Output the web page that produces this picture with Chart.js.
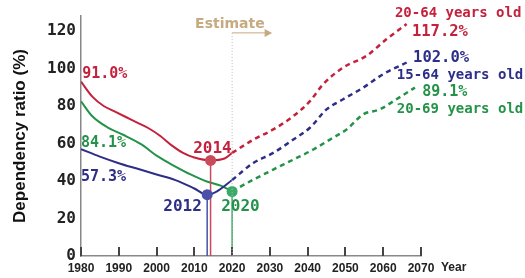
<!DOCTYPE html>
<html>
<head>
<meta charset="utf-8">
<script src="https://cdn.jsdelivr.net/npm/chart.js@4.4.1/dist/chart.umd.min.js"></script>
<style>
  html, body { margin: 0; padding: 0; background: #fff; }
  #wrap { width: 525px; height: 278px; position: relative; }
</style>
</head>
<body>
<div id="wrap"><canvas id="ratioChart"></canvas></div>
<script>
// Dependency ratio (%)
const redYears = [1980, 1983, 1986, 1989, 1992, 1995, 1998, 2001, 2004, 2007, 2010, 2014.3, 2018, 2020];
const redValues = [93, 85, 80, 77, 74, 71, 68, 64, 59, 55, 52.5, 51, 52, 55];
const redEstYears = [2020, 2025.6, 2030.9, 2036.2, 2040.6, 2044.1, 2049.4, 2055.6, 2060.9, 2066.2];
const redEstValues = [55, 62, 67.5, 74.6, 82.6, 91.6, 100.5, 106.8, 115.7, 123.7];

const blueYears = [1980, 1985, 1990, 1995, 2000, 2005, 2010, 2013.4, 2016, 2020];
const blueValues = [57, 53, 49.5, 46.5, 43.5, 40.5, 36, 32.7, 34.5, 40.5];
const blueEstYears = [2020, 2025.6, 2030.9, 2036.2, 2040.6, 2045, 2049.4, 2054.7, 2060, 2066.2];
const blueEstValues = [40.5, 49.6, 55, 62.1, 68.4, 78.2, 83.6, 89.8, 97, 103.2];

const greenYears = [1980, 1983, 1987, 1991, 1996, 2000, 2005, 2009, 2013.5, 2017, 2020];
const greenValues = [82.5, 74.5, 68.6, 64.8, 59.5, 53.5, 47.7, 43.5, 39.6, 37.5, 34.4];
const greenEstYears = [2020, 2025.6, 2030.9, 2036.2, 2041.5, 2045.9, 2050.3, 2054.7, 2059.1, 2063.5, 2068.4];
const greenEstValues = [34.6, 40.7, 46.1, 51.4, 56.8, 62.1, 67.5, 75.5, 78.2, 83.6, 89.8];

// turning points (year, value)
const redMin = [2014.3, 51];
const blueMin = [2013.4, 32.7];
const greenMin = [2020, 34.4];

const yTicks = [0, 20, 40, 60, 80, 100, 120];
const xTicks = [1980, 1990, 2000, 2010, 2020, 2030, 2040, 2050, 2060, 2070];

const RED = "#c4213c";
const BLUE = "#2d2e87";
const GREEN = "#25924a";
const TAN = "#c6aa80";

function pts(xs, ys) {
    return xs.map((x, i) => ({ x: x, y: ys[i] }));
}

function lineSet(xs, ys, color, dashed) {
    return {
        data: pts(xs, ys),
        borderColor: color,
        borderWidth: dashed ? 2.5 : 2,
        borderDash: dashed ? [5, 4] : [],
        pointRadius: 0,
        cubicInterpolationMode: "monotone",
        fill: false,
    };
}

function dropSet(p, color) {
    return {
        data: [{ x: p[0], y: p[1] }, { x: p[0], y: 0 }],
        borderColor: color,
        borderWidth: 1.5,
        pointRadius: [5.5, 0],
        pointBackgroundColor: color,
        pointBorderWidth: 0,
        fill: false,
    };
}

// labels, arrow, estimate line, tick marks
const extras = {
    id: "extras",
    afterDraw(chart) {
        const ctx = chart.ctx;
        const xs = chart.scales.x;
        const ys = chart.scales.y;
        const px = (v) => xs.getPixelForValue(v);
        const py = (v) => ys.getPixelForValue(v);
        const base = ys.getPixelForValue(0);
        ctx.save();

        // short upward tick marks on the x axis
        ctx.fillStyle = "#444";
        xTicks.forEach((t) => {
            ctx.fillRect(Math.round(px(t)) - 1, base - 9, 2, 9);
        });

        // estimate divider and arrow
        ctx.strokeStyle = "#bbb";
        ctx.lineWidth = 1;
        ctx.setLineDash([1, 2]);
        ctx.beginPath();
        ctx.moveTo(px(2020), py(119));
        ctx.lineTo(px(2020), base);
        ctx.stroke();
        ctx.setLineDash([]);
        ctx.strokeStyle = TAN;
        ctx.beginPath();
        ctx.moveTo(px(2020), py(119));
        ctx.lineTo(px(2029.5), py(119));
        ctx.stroke();
        ctx.fillStyle = TAN;
        ctx.beginPath();
        ctx.moveTo(px(2030.6), py(119));
        ctx.lineTo(px(2028.6), py(119) - 4);
        ctx.lineTo(px(2028.6), py(119) + 4);
        ctx.closePath();
        ctx.fill();

        ctx.textBaseline = "middle";
        ctx.font = "bold 14px 'DejaVu Sans'";
        ctx.textAlign = "left";
        ctx.fillText("Estimate", px(2010.2), py(123.7));

        const notes = [
            ["91.0%", 1980.3, 97, RED, "left", 15],
            ["84.1%", 1980, 60.3, GREEN, "left", 15],
            ["57.3%", 1980, 41.9, BLUE, "left", 15],
            ["2014", 2014.8, 57, RED, "center", 16],
            ["2012", 2006.9, 26.4, BLUE, "center", 16],
            ["2020", 2022.2, 26.4, GREEN, "center", 16],
            ["20-64 years old", 2063.1, 129.5, RED, "left", 14],
            ["117.2%", 2067.6, 119.5, RED, "left", 15.5],
            ["102.0%", 2067.9, 105.6, BLUE, "left", 15.5],
            ["15-64 years old", 2063.6, 96.5, BLUE, "left", 14],
            ["89.1%", 2070.3, 87.5, GREEN, "left", 15],
            ["20-69 years old", 2063.6, 78.4, GREEN, "left", 14],
        ];
        notes.forEach((n) => {
            ctx.font = "bold " + n[5] + "px 'DejaVu Sans Mono'";
            ctx.fillStyle = n[3];
            ctx.textAlign = n[4];
            ctx.fillText(n[0], px(n[1]), py(n[2]));
        });

        ctx.fillStyle = "#222";
        ctx.textAlign = "left";
        ctx.font = "bold 12px 'Liberation Sans'";
        ctx.fillText("Year", px(2070) + 20, base + 12);
        ctx.restore();
    },
};

document.addEventListener("DOMContentLoaded", function () {
    const ctx = document.getElementById("ratioChart");

    new Chart(ctx, {
        type: "line",
        data: {
            datasets: [
                dropSet(blueMin, "#4a52a8"),
                dropSet(redMin, "#c94a5a"),
                dropSet(greenMin, "#3aaa68"),
                lineSet(redYears, redValues, RED, false),
                lineSet(blueYears, blueValues, BLUE, false),
                lineSet(greenYears, greenValues, GREEN, false),
                lineSet(redEstYears, redEstValues, RED, true),
                lineSet(blueEstYears, blueEstValues, BLUE, true),
                lineSet(greenEstYears, greenEstValues, GREEN, true),
            ],
        },
        options: {
            responsive: true,
            maintainAspectRatio: false,
            animation: false,
            layout: { padding: { top: 16, right: 104, left: 0, bottom: 0 } },
            plugins: {
                legend: { display: false },
                tooltip: { enabled: false },
            },
            scales: {
                x: {
                    type: "linear",
                    min: 1980,
                    max: 2070,
                    afterBuildTicks: (s) => { s.ticks = xTicks.map((v) => ({ value: v })); },
                    afterFit: (s) => { s.height = 22; },
                    grid: { display: false, drawTicks: false },
                    border: { color: "#888", width: 1.5 },
                    ticks: {
                        padding: 5,
                        color: "#222",
                        maxRotation: 0,
                        font: { family: "'Liberation Sans'", size: 12, weight: "bold" },
                        callback: (v) => String(v),
                    },
                },
                y: {
                    min: 0,
                    max: 128,
                    afterBuildTicks: (s) => { s.ticks = yTicks.map((v) => ({ value: v })); },
                    afterFit: (s) => { s.width = 81; },
                    grid: { display: false, drawTicks: false },
                    border: { color: "#888", width: 1.5 },
                    ticks: {
                        padding: 5,
                        color: "#222",
                        font: { family: "'DejaVu Sans Mono'", size: 16, weight: "bold" },
                    },
                    title: {
                        display: true,
                        text: "Dependency ratio (%)",
                        color: "#111",
                        padding: { top: 10, bottom: 0 },
                        font: { family: "'Liberation Sans'", size: 17, weight: "bold" },
                    },
                },
            },
        },
        plugins: [extras],
    });
});
</script>
</body>
</html>
